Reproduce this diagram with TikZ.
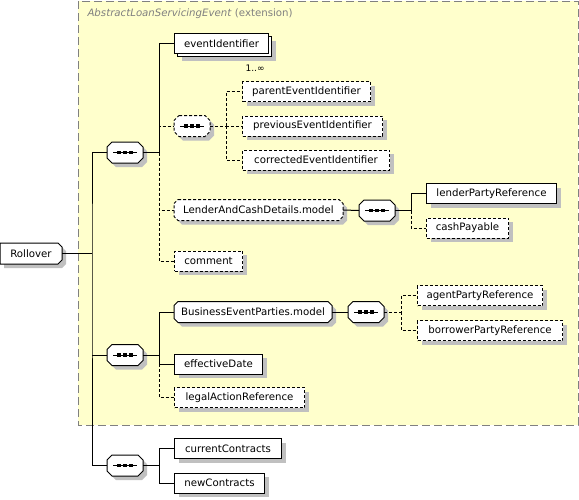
\documentclass[tikz,border=0pt]{standalone}
\usepackage{fontspec}
\setmainfont{DejaVu Sans}
\usetikzlibrary{shadows}
\definecolor{extfill}{RGB}{255,255,204}
\definecolor{extline}{RGB}{128,128,128}
\definecolor{shade}{RGB}{192,192,192}

% rectangle with cut corners
\newdimen\octl \newdimen\octr \newdimen\octb \newdimen\octt
\def\octcut{4pt}
\def\octcutleft{4pt}
\makeatletter
\pgfdeclareshape{octbox}{%
  \inheritsavedanchors[from=rectangle]%
  \inheritanchorborder[from=rectangle]%
  \inheritanchor[from=rectangle]{center}%
  \inheritanchor[from=rectangle]{north}%
  \inheritanchor[from=rectangle]{south}%
  \inheritanchor[from=rectangle]{east}%
  \inheritanchor[from=rectangle]{west}%
  \inheritanchor[from=rectangle]{north east}%
  \inheritanchor[from=rectangle]{north west}%
  \inheritanchor[from=rectangle]{south east}%
  \inheritanchor[from=rectangle]{south west}%
  \inheritanchor[from=rectangle]{mid}%
  \inheritanchor[from=rectangle]{base}%
  \backgroundpath{%
    \southwest \octl=\pgf@x \octb=\pgf@y
    \northeast \octr=\pgf@x \octt=\pgf@y
    \pgfpathmoveto{\pgfpoint{\octl+\octcutleft}{\octt}}%
    \pgfpathlineto{\pgfpoint{\octr-\octcut}{\octt}}%
    \pgfpathlineto{\pgfpoint{\octr}{\octt-\octcut}}%
    \pgfpathlineto{\pgfpoint{\octr}{\octb+\octcut}}%
    \pgfpathlineto{\pgfpoint{\octr-\octcut}{\octb}}%
    \pgfpathlineto{\pgfpoint{\octl+\octcutleft}{\octb}}%
    \pgfpathlineto{\pgfpoint{\octl}{\octb+\octcutleft}}%
    \pgfpathlineto{\pgfpoint{\octl}{\octt-\octcutleft}}%
    \pgfpathclose
  }%
}
\makeatother

\begin{document}
\begin{tikzpicture}[
  x=1pt,
  y=-1pt,
  line width=1pt,
  font=\fontsize{10.2}{12}\selectfont,
  chamfer/.code={\def\octcut{#1}\def\octcutleft{#1}},
  chamferleft/.code={\def\octcutleft{#1}},
  box/.style={
    draw,
    fill=white,
    anchor=west,
    minimum height=20pt,
    inner xsep=2pt,
    inner ysep=0pt
  },
  elem/.style={
    box,
    drop shadow={shadow xshift=4pt,shadow yshift=-4pt,fill=shade,opacity=1}
  },
  opt/.style={dash pattern=on 3pt off 2pt},
  grp/.style={elem,shape=octbox,chamfer=4pt},
  rootbox/.style={grp,chamferleft=0pt},
  seqbox/.style={
    elem,
    shape=octbox,
    chamfer=5pt,
    minimum width=35pt,
    path picture={
      \draw[solid,black] ([xshift=-12pt]path picture bounding box.center)
        -- ([xshift=12pt]path picture bounding box.center);
      \foreach \dx in {-6,0,6}
        \fill[black] ([xshift=\dx pt]path picture bounding box.center)
          +(-1.7pt,-1.7pt) rectangle +(1.7pt,1.7pt);
    }
  }
]
  \useasboundingbox (0,0) rectangle (579,499);

  % extension frame
  \draw[extline,fill=extfill,dash pattern=on 8pt off 4pt] (78,1) rectangle (578,425);
  \node[anchor=west,text=extline,inner sep=0pt] (exttitle) at (87,14)
    {\textit{AbstractLoanServicingEvent} (extension)};

  % root and compositors
  \node[rootbox,minimum width=61pt] (root) at (0,253.5) {Rollover};
  \node[seqbox] (seq1) at (107,152.5) {};
  \node[seqbox] (seq2) at (107,355) {};
  \node[seqbox] (seq3) at (107,465.5) {};

  % first sequence
  \node[elem,minimum width=94pt] (evidback) at (177,46.5) {};
  \node[box,minimum width=94pt] (evid) at (174,43.5) {eventIdentifier};
  \node[anchor=east,inner sep=0pt,font=\fontsize{9}{10}\selectfont] (evidcard) at (265,68) {1..∞};
  \node[seqbox,opt] (choice) at (174,126) {};
  \node[elem,opt,minimum width=128pt] (parent) at (242,91.5) {parentEventIdentifier};
  \node[elem,opt,minimum width=140pt] (previous) at (242,126) {previousEventIdentifier};
  \node[elem,opt,minimum width=147pt] (corrected) at (242,160) {correctedEventIdentifier};
  \node[grp,opt,minimum width=168pt] (lcd) at (174,210) {LenderAndCashDetails.model};
  \node[seqbox] (seqL) at (359,210.5) {};
  \node[elem,minimum width=130pt] (lender) at (426,193.5) {lenderPartyReference};
  \node[elem,opt,minimum width=82pt] (cash) at (426,228) {cashPayable};
  \node[elem,opt,minimum width=68pt] (comment) at (174,261) {comment};

  % second sequence
  \node[grp,minimum width=157pt] (bep) at (174,312) {BusinessEventParties.model};
  \node[seqbox] (seqB) at (348,312) {};
  \node[elem,opt,minimum width=125pt] (agent) at (417,295.5) {agentPartyReference};
  \node[elem,opt,minimum width=145pt] (borrower) at (417,330.5) {borrowerPartyReference};
  \node[elem,minimum width=88pt] (effdate) at (174,364) {effectiveDate};
  \node[elem,opt,minimum width=130pt] (legal) at (174,397.5) {legalActionReference};

  % third sequence
  \node[elem,minimum width=107pt] (current) at (174,448.5) {currentContracts};
  \node[elem,minimum width=90pt] (newc) at (174,483) {newContracts};

  % junctions
  \coordinate (spine) at (92,253.5);
  \coordinate (j1) at (159,152.5);
  \coordinate (j2) at (226,126);
  \coordinate (j3) at (411,210.5);
  \coordinate (j4) at (159,355);
  \coordinate (j5) at (401,312);
  \coordinate (j6) at (159,465.5);

  % connectors
  \draw (root.east) -- (spine);
  \draw (seq1.west) -| (spine) |- (seq3.west);
  \draw (seq2.west) -- (seq2.west -| spine);

  \draw (seq1.east) -- (j1) |- (evid.west);
  \draw[opt] (j1) |- (choice.west);
  \draw[opt] (j1) |- (lcd.west);
  \draw[opt] (j1) |- (comment.west);
  \draw[opt] (choice.east) -- (j2);
  \draw[opt] (j2) |- (parent.west);
  \draw[opt] (j2) |- (previous.west);
  \draw[opt] (j2) |- (corrected.west);
  \draw (lcd.east) -- (seqL.west);
  \draw (seqL.east) -- (j3) |- (lender.west);
  \draw[opt] (j3) |- (cash.west);

  \draw (seq2.east) -- (j4) |- (bep.west);
  \draw (j4) |- (effdate.west);
  \draw[opt] (effdate.west -| j4) |- (legal.west);
  \draw (bep.east) -- (seqB.west);
  \draw[opt] (seqB.east) -- (j5) |- (agent.west);
  \draw[opt] (j5) |- (borrower.west);

  \draw (seq3.east) -- (j6) |- (current.west);
  \draw (j6) |- (newc.west);
\end{tikzpicture}
\end{document}
